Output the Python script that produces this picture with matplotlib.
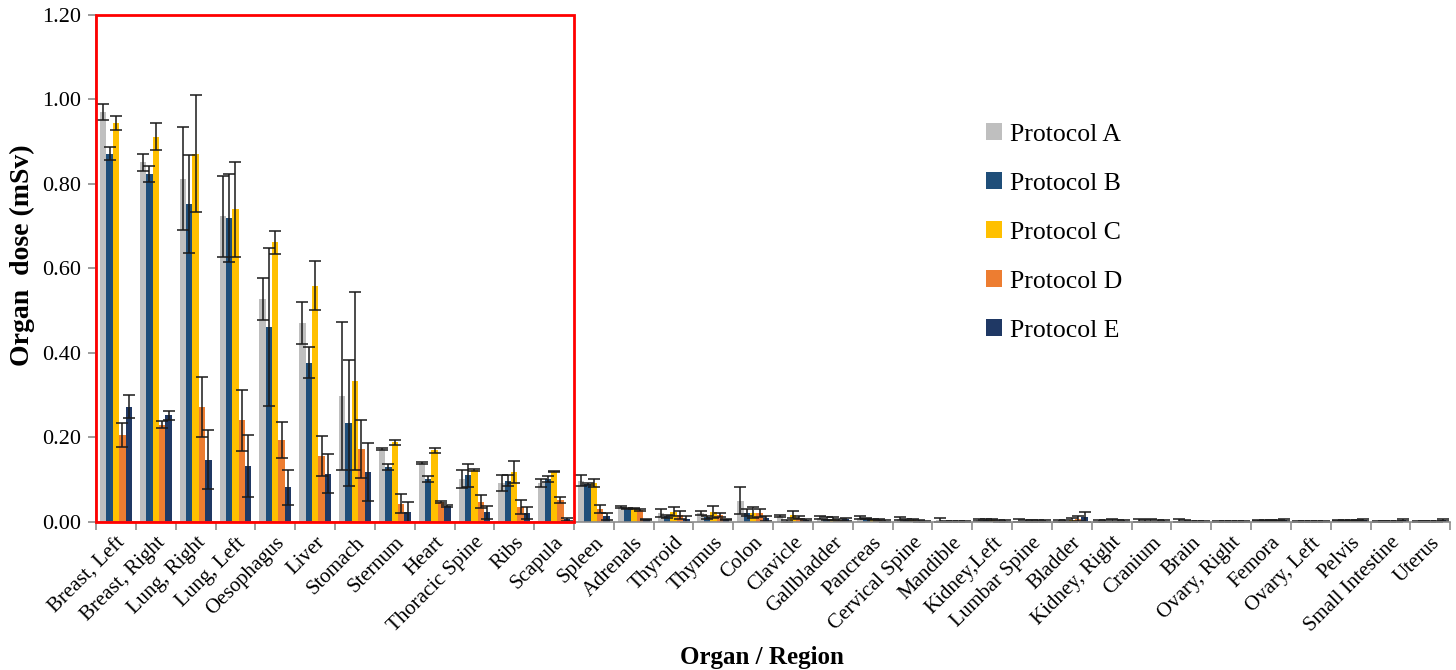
import matplotlib
matplotlib.use("Agg")
import matplotlib.pyplot as plt
import matplotlib.patches as patches
import numpy as np

plt.rcParams['font.family'] = ['Liberation Serif', 'DejaVu Serif']

organs = ["Breast, Left", "Breast, Right", "Lung, Right", "Lung, Left", "Oesophagus",
          "Liver", "Stomach", "Sternum", "Heart", "Thoracic Spine", "Ribs", "Scapula",
          "Spleen", "Adrenals", "Thyroid", "Thymus", "Colon", "Clavicle", "Gallbladder",
          "Pancreas", "Cervical Spine", "Mandible", "Kidney,Left", "Lumbar Spine",
          "Bladder", "Kidney, Right", "Cranium", "Brain", "Ovary, Right", "Femora",
          "Ovary, Left", "Pelvis", "Small Intestine", "Uterus"]

prot_a = [0.970, 0.851, 0.812, 0.723, 0.527, 0.470, 0.299, 0.172, 0.140, 0.102, 0.092, 0.092,
          0.097, 0.036, 0.021, 0.021, 0.050, 0.014, 0.010, 0.010, 0.008, 0.004, 0.004, 0.003,
          0.003, 0.003, 0.003, 0.003, 0.002, 0.003, 0.002, 0.003, 0.002, 0.002]
err_a = [0.018, 0.020, 0.122, 0.096, 0.050, 0.050, 0.175, 0.002, 0.002, 0.021, 0.020, 0.010,
         0.013, 0.002, 0.009, 0.004, 0.032, 0.002, 0.004, 0.003, 0.004, 0.005, 0.002, 0.003,
         0.002, 0.002, 0.003, 0.003, 0.001, 0.001, 0.001, 0.001, 0.001, 0.001]

prot_b = [0.871, 0.823, 0.752, 0.720, 0.461, 0.377, 0.234, 0.129, 0.102, 0.110, 0.097, 0.101,
          0.089, 0.032, 0.013, 0.011, 0.022, 0.003, 0.008, 0.008, 0.005, 0.002, 0.004, 0.003,
          0.002, 0.003, 0.003, 0.002, 0.002, 0.003, 0.002, 0.003, 0.002, 0.002]
err_b = [0.015, 0.019, 0.116, 0.104, 0.187, 0.037, 0.148, 0.007, 0.007, 0.027, 0.013, 0.007,
         0.002, 0.002, 0.003, 0.004, 0.009, 0.002, 0.003, 0.002, 0.002, 0.001, 0.002, 0.002,
         0.002, 0.002, 0.002, 0.002, 0.001, 0.001, 0.001, 0.001, 0.001, 0.001]

prot_c = [0.944, 0.911, 0.871, 0.740, 0.662, 0.559, 0.334, 0.189, 0.170, 0.123, 0.118, 0.119,
          0.092, 0.032, 0.024, 0.023, 0.022, 0.017, 0.008, 0.006, 0.004, 0.002, 0.004, 0.003,
          0.005, 0.003, 0.003, 0.001, 0.002, 0.003, 0.002, 0.003, 0.002, 0.002]
err_c = [0.017, 0.032, 0.138, 0.112, 0.027, 0.058, 0.210, 0.006, 0.006, 0.002, 0.027, 0.002,
         0.009, 0.002, 0.011, 0.014, 0.013, 0.008, 0.004, 0.002, 0.002, 0.001, 0.002, 0.002,
         0.005, 0.003, 0.003, 0.001, 0.001, 0.001, 0.001, 0.001, 0.001, 0.001]

prot_d = [0.206, 0.230, 0.271, 0.241, 0.194, 0.156, 0.173, 0.043, 0.047, 0.048, 0.036, 0.052,
          0.030, 0.028, 0.017, 0.017, 0.021, 0.010, 0.005, 0.004, 0.003, 0.002, 0.003, 0.002,
          0.008, 0.002, 0.003, 0.001, 0.002, 0.003, 0.002, 0.003, 0.002, 0.002]
err_d = [0.028, 0.008, 0.071, 0.072, 0.042, 0.047, 0.068, 0.023, 0.002, 0.015, 0.017, 0.008,
         0.010, 0.002, 0.010, 0.005, 0.009, 0.003, 0.002, 0.002, 0.002, 0.001, 0.002, 0.002,
         0.006, 0.002, 0.002, 0.001, 0.001, 0.001, 0.001, 0.001, 0.001, 0.001]

prot_e = [0.273, 0.252, 0.147, 0.133, 0.082, 0.114, 0.118, 0.023, 0.038, 0.023, 0.021, 0.006,
          0.013, 0.006, 0.006, 0.006, 0.009, 0.005, 0.006, 0.003, 0.002, 0.002, 0.003, 0.002,
          0.012, 0.003, 0.003, 0.001, 0.002, 0.004, 0.002, 0.004, 0.004, 0.005]
err_e = [0.028, 0.010, 0.070, 0.073, 0.042, 0.046, 0.068, 0.023, 0.002, 0.015, 0.015, 0.004,
         0.008, 0.002, 0.008, 0.002, 0.006, 0.002, 0.004, 0.002, 0.001, 0.001, 0.002, 0.002,
         0.012, 0.002, 0.002, 0.001, 0.001, 0.002, 0.001, 0.002, 0.002, 0.002]

labels = ["Protocol A", "Protocol B", "Protocol C", "Protocol D", "Protocol E"]
colors = ["#BFBFBF", "#1F4E79", "#FFC000", "#ED7D31", "#1F3864"]
series = [(prot_a, err_a), (prot_b, err_b), (prot_c, err_c), (prot_d, err_d), (prot_e, err_e)]

fig = plt.figure(figsize=(14.56, 6.70), dpi=100)
ax = fig.add_axes([0.066, 0.221, 0.930, 0.757])

x = np.arange(len(organs))
w = 0.16
for i, (vals, errs) in enumerate(series):
    ax.bar(x + (i - 2) * w, vals, w, color=colors[i], label=labels[i],
           yerr=errs, capsize=4, error_kw=dict(ecolor='#1a1a1a', elinewidth=1.1, capthick=1.1),
           zorder=2)

ax.set_xlim(-0.5, len(organs) - 0.5)
ax.set_ylim(0, 1.2)
ax.set_yticks(np.arange(0, 1.21, 0.2))
ax.set_yticklabels(["%.2f" % v for v in np.arange(0, 1.21, 0.2)], fontsize=16)

# category boundaries get the tick marks, names sit at the centres
ax.set_xticks(np.arange(-0.5, len(organs), 1.0))
ax.set_xticklabels([])
ax.set_xticks(x, minor=True)
ax.set_xticklabels(organs, minor=True, rotation=45, ha='right', va='top',
                   rotation_mode='anchor', fontsize=15)
ax.tick_params(axis='x', which='minor', length=0, pad=8)
ax.tick_params(axis='x', which='major', length=6, color='#8C8C8C', width=1.2)
ax.tick_params(axis='y', length=6, color='#8C8C8C', width=1.2, pad=5)

for s in ['top', 'right']:
    ax.spines[s].set_visible(False)
for s in ['left', 'bottom']:
    ax.spines[s].set_color('#8C8C8C')
    ax.spines[s].set_linewidth(1.2)

ax.set_ylabel("Organ  dose (mSv)", fontsize=20, fontweight='bold')
ax.set_xlabel("Organ / Region", fontsize=18, fontweight='bold')
ax.yaxis.set_label_coords(-0.045, 0.525)
ax.xaxis.set_label_coords(0.492, -0.245)

rect = patches.Rectangle((-0.5, 0), 12, 1.2, fill=False, edgecolor='red', linewidth=2,
                         zorder=5, clip_on=False)
ax.add_patch(rect)

ax.legend(loc='upper left', bbox_to_anchor=(0.661, 0.851), bbox_transform=fig.transFigure,
          frameon=False, fontsize=18.5, handlelength=0.65, handleheight=0.65,
          handletextpad=0.3, labelspacing=1.03)

fig.savefig("out.png", dpi=100)
